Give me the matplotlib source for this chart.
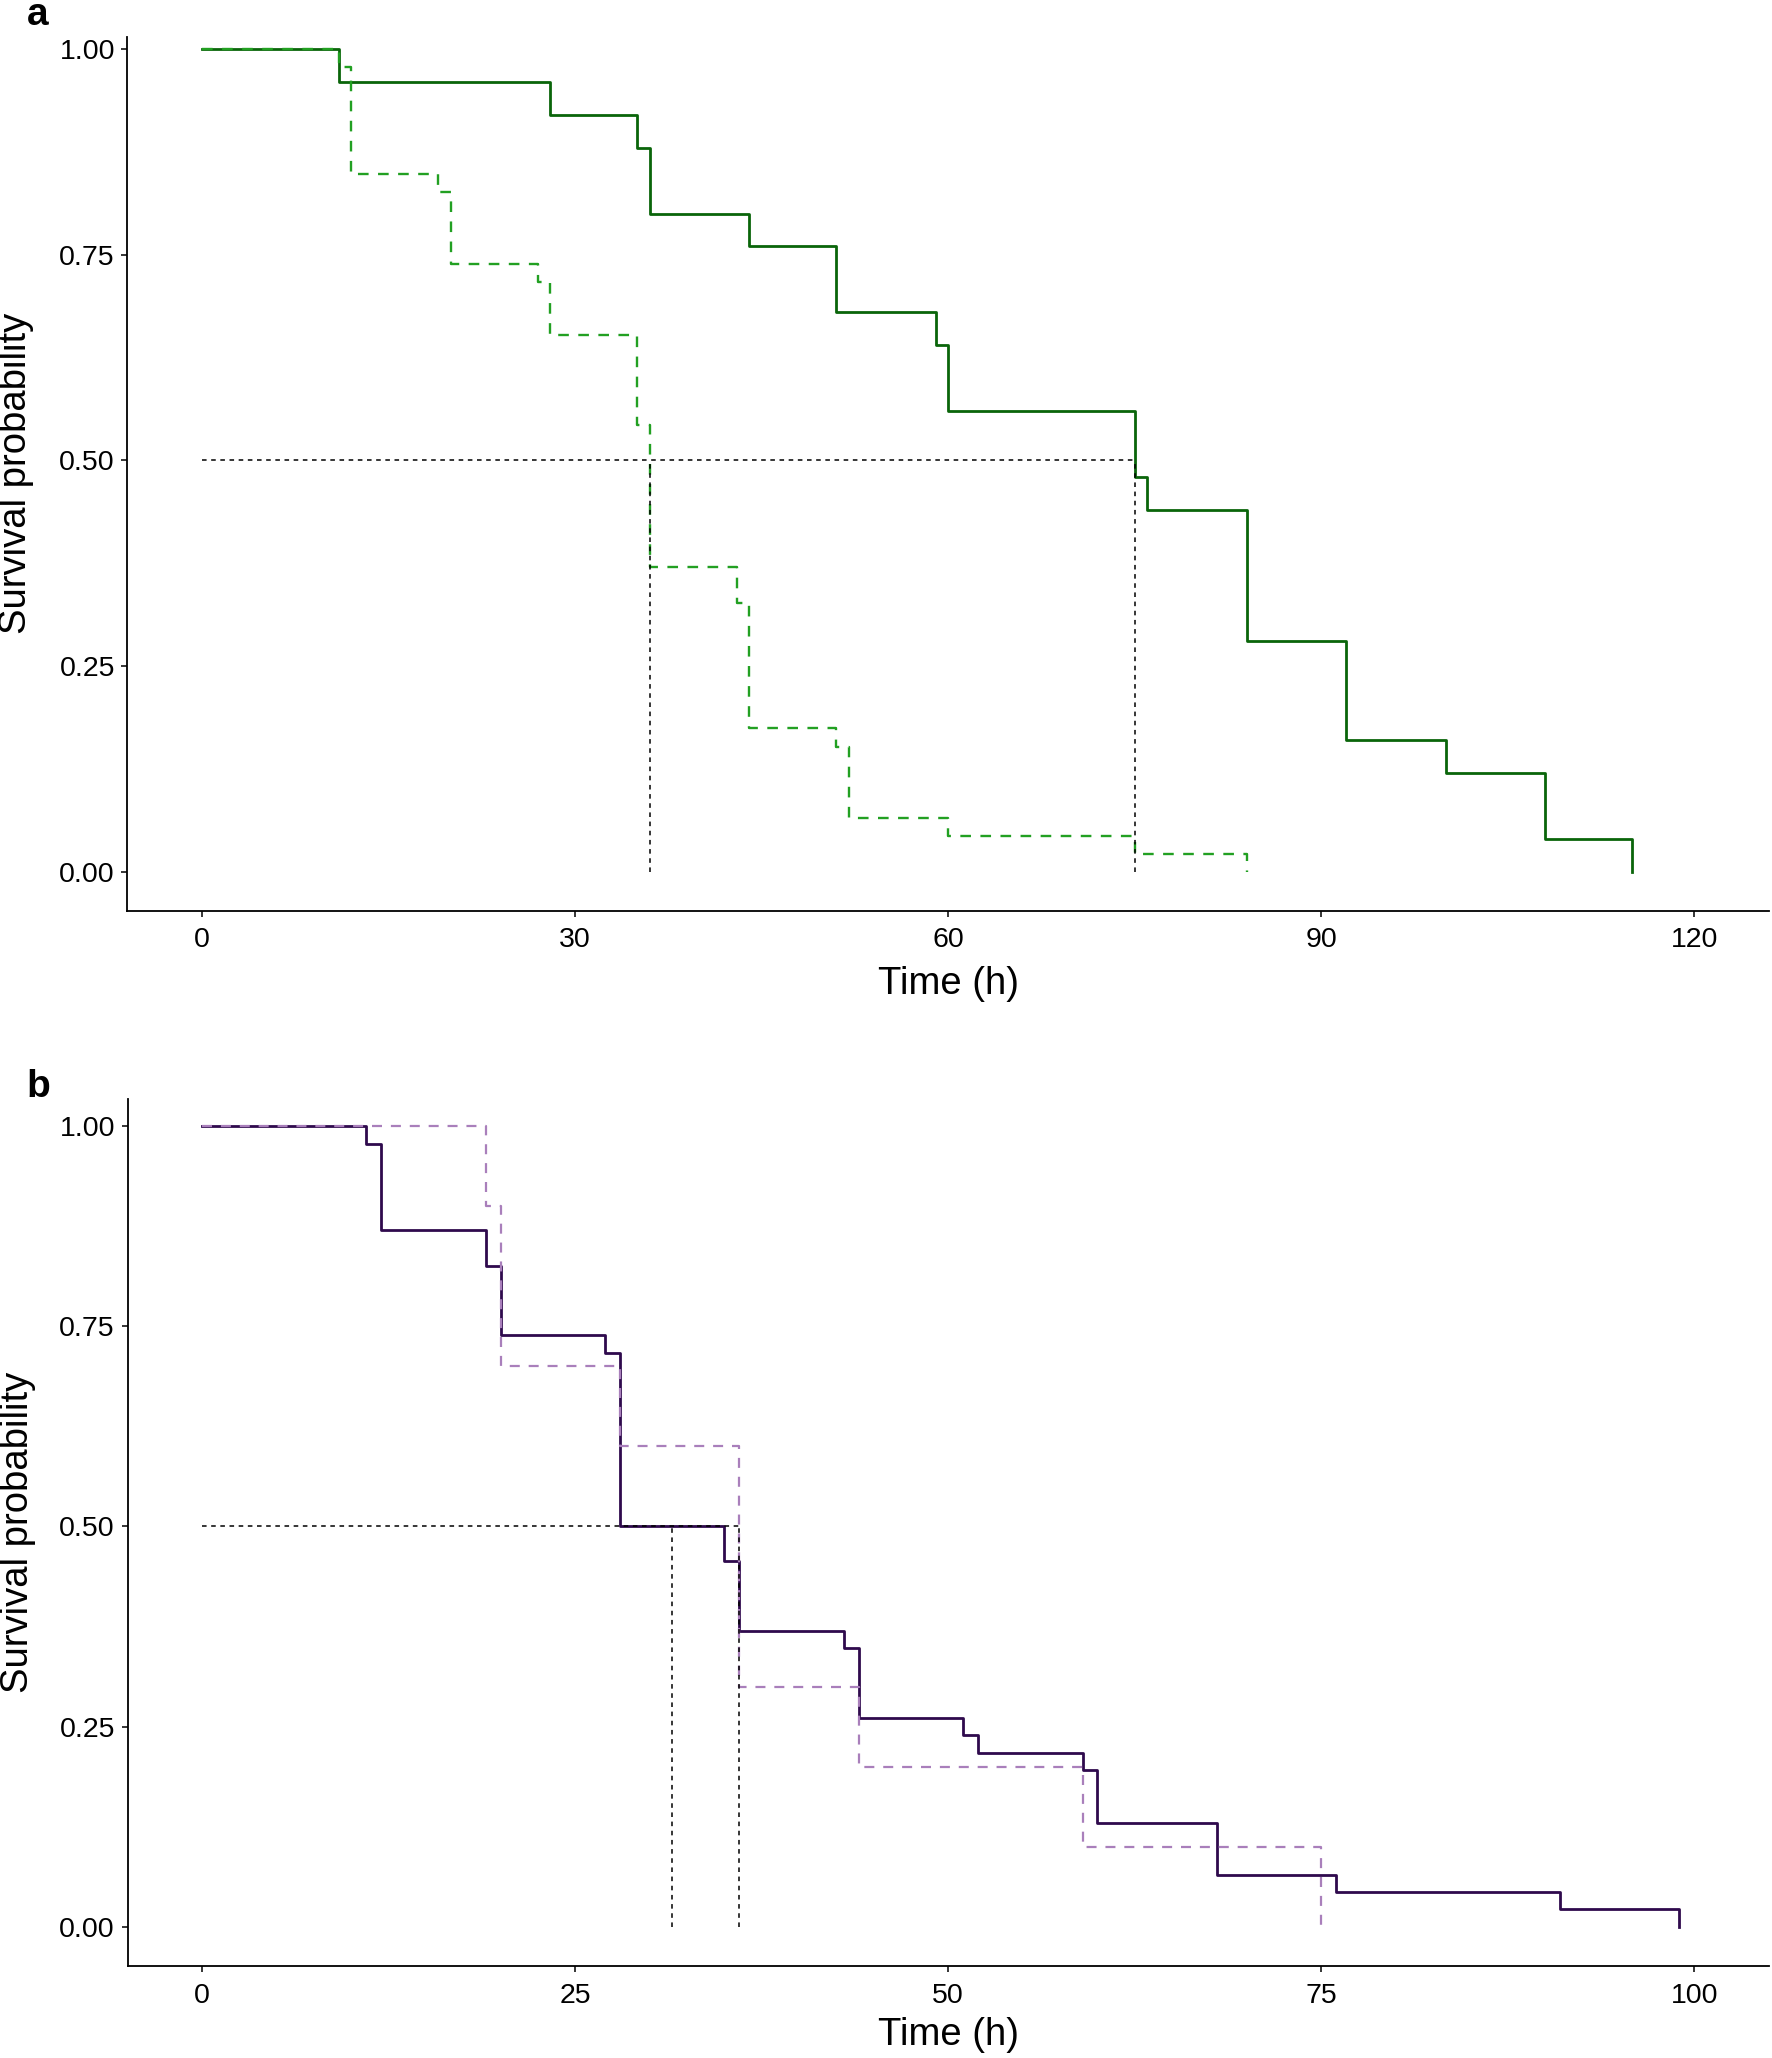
import matplotlib
matplotlib.use("Agg")
import matplotlib.pyplot as plt

plt.rcParams['font.family'] = ['Liberation Sans', 'DejaVu Sans']

# Panel a: Kaplan-Meier steps (time in h, survival probability)
time_a_solid = [0, 11, 28, 35, 36, 44, 51, 59, 60, 75, 76, 84, 92, 100, 108, 115]
surv_a_solid = [1.00, 0.96, 0.92, 0.88, 0.80, 0.76, 0.68, 0.64, 0.56, 0.48, 0.44,
                0.28, 0.16, 0.12, 0.04, 0.00]
time_a_dash = [0, 11, 12, 19, 20, 27, 28, 35, 36, 43, 44, 51, 52, 60, 75, 84]
surv_a_dash = [1.000, 0.978, 0.848, 0.826, 0.739, 0.717, 0.652, 0.543, 0.370,
               0.326, 0.174, 0.152, 0.065, 0.043, 0.022, 0.000]
medians_a = [36, 75]

# Panel b
time_b_solid = [0, 11, 12, 19, 20, 27, 28, 35, 36, 43, 44, 51, 52, 59, 60, 68, 76, 91, 99]
surv_b_solid = [1.000, 0.978, 0.870, 0.826, 0.739, 0.717, 0.500, 0.457, 0.370, 0.348,
                0.261, 0.239, 0.217, 0.196, 0.130, 0.065, 0.043, 0.022, 0.000]
time_b_dash = [0, 19, 20, 28, 36, 44, 59, 75]
surv_b_dash = [1.0, 0.9, 0.7, 0.6, 0.3, 0.2, 0.1, 0.0]
medians_b = [31.5, 36]

xticks_a = [0, 30, 60, 90, 120]
xticks_b = [0, 25, 50, 75, 100]
yticks = [0.00, 0.25, 0.50, 0.75, 1.00]

W, H = 1772, 2058
fig = plt.figure(figsize=(W / 100, H / 100), dpi=100)

# axes rectangles from pixel positions (left, top, right, bottom)
ax_a = fig.add_axes([127.4 / W, 1 - 910.7 / H, (1769 - 127.4) / W, (910.7 - 37) / H])
ax_b = fig.add_axes([127.5 / W, 1 - 1966 / H, (1769 - 127.5) / W, (1966 - 1099) / H])


def style_axis(ax, xticks, xlim, ylim):
    ax.set_xlim(*xlim)
    ax.set_ylim(*ylim)
    ax.set_xticks(xticks)
    ax.set_xticklabels([str(t) for t in xticks])
    ax.set_yticks(yticks)
    ax.set_yticklabels([f"{v:.2f}" for v in yticks])
    for s in ['top', 'right']:
        ax.spines[s].set_visible(False)
    for s in ['left', 'bottom']:
        ax.spines[s].set_linewidth(1.3)
    ax.tick_params(axis='both', length=4, width=1.1, labelsize=20.5, colors='black')
    ax.tick_params(axis='x', pad=8)
    ax.tick_params(axis='y', pad=5)
    ax.set_ylabel('Survival probability', fontsize=27.5, va='center')
    ax.set_xlabel('Time (h)', fontsize=27.5, va='center')


def median_lines(ax, medians):
    ax.plot([0, max(medians)], [0.5, 0.5], color='black', lw=1.1,
            linestyle=(0, (3, 3)), zorder=5)
    for m in medians:
        ax.plot([m, m], [0, 0.5], color='black', lw=1.1,
                linestyle=(0, (3, 3)), zorder=5)


# Panel a
ax_a.step(time_a_solid, surv_a_solid, where='post', color='#0a650a', lw=2.0, zorder=3)
ax_a.step(time_a_dash, surv_a_dash, where='post', color='#22a022', lw=1.7,
          linestyle=(0, (4.5, 4)), zorder=3)
median_lines(ax_a, medians_a)
style_axis(ax_a, xticks_a, (-6, 126), (-0.0475, 1.0146))
ax_a.yaxis.set_label_coords(-0.068, 0.5)
ax_a.xaxis.set_label_coords(0.5, -0.084)

# Panel b
ax_b.step(time_b_solid, surv_b_solid, where='post', color='#2f0a4d', lw=2.0, zorder=3)
ax_b.step(time_b_dash, surv_b_dash, where='post', color='#a97fbb', lw=1.6,
          linestyle=(0, (4.5, 4)), zorder=4)
median_lines(ax_b, medians_b)
style_axis(ax_b, xticks_b, (-5, 105), (-0.049, 1.034))
ax_b.yaxis.set_label_coords(-0.067, 0.5)
ax_b.xaxis.set_label_coords(0.5, -0.08)

fig.text(27 / W, 1 - 25 / H, 'a', fontsize=28, fontweight='bold', va='baseline', ha='left')
fig.text(26 / W, 1 - 1097 / H, 'b', fontsize=28, fontweight='bold', va='baseline', ha='left')

fig.savefig('out.png', dpi=100)
